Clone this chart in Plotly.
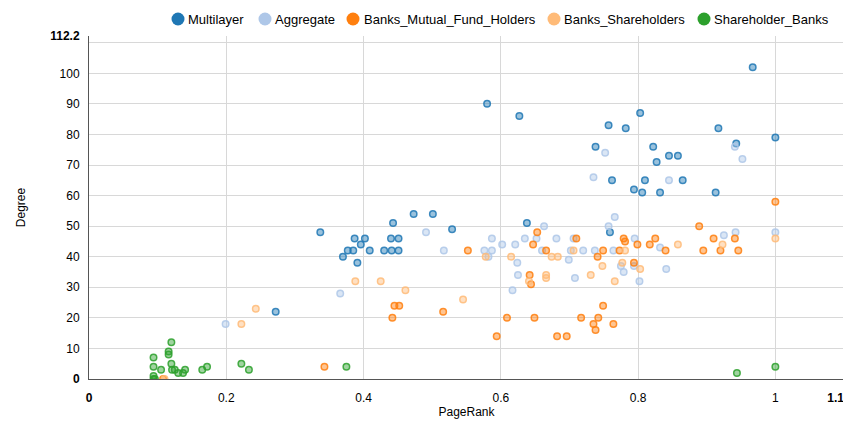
import plotly.graph_objects as go

series_names = ["Multilayer", "Aggregate", "Banks_Mutual_Fund_Holders",
                "Banks_Shareholders", "Shareholder_Banks"]
series_colors = ["#1f77b4", "#aec7e8", "#ff7f0e", "#ffbb78", "#2ca02c"]

multilayer_x = [0.967, 0.58, 0.627, 0.757, 0.782, 0.803, 0.738, 0.822, 0.827, 0.845, 0.858,
                0.917, 0.943, 0.762, 0.810, 0.865, 0.794, 0.806, 0.832, 0.913, 0.759, 1.0,
                0.337, 0.473, 0.501, 0.443, 0.529, 0.387, 0.402, 0.396, 0.377, 0.385, 0.409,
                0.370, 0.391, 0.440, 0.451, 0.430, 0.441, 0.451, 0.638, 0.272]
multilayer_y = [102, 90, 86, 83, 82, 87, 76, 76, 71, 73, 73,
                82, 77, 65, 65, 65, 62, 61, 61, 61, 48, 79,
                48, 54, 54, 51, 49, 46, 46, 44, 42, 42, 42,
                40, 38, 46, 46, 42, 42, 42, 51, 22]

aggregate_x = [0.199, 0.366, 0.491, 0.517, 0.576, 0.587, 0.587, 0.582, 0.602, 0.621, 0.635,
               0.652, 0.663, 0.660, 0.624, 0.625, 0.617, 0.681, 0.706, 0.795, 0.702, 0.720,
               0.737, 0.764, 0.832, 0.699, 0.775, 0.794, 0.779, 0.841, 0.708, 0.802, 0.757,
               0.766, 0.752, 0.735, 0.845, 0.941, 0.952, 0.925, 0.942, 1.0]
aggregate_y = [18, 28, 48, 42, 42, 42, 46, 40, 44, 44, 46,
               46, 50, 42, 38, 34, 29, 46, 46, 46, 42, 42,
               42, 42, 43, 39, 37, 37, 35, 36, 33, 32, 50,
               53, 74, 66, 65, 76, 72, 47, 48, 48]

mutual_x = [0.108, 0.343, 0.442, 0.445, 0.452, 0.516, 0.552, 0.594, 0.609, 0.649, 0.642,
            0.644, 0.647, 0.653, 0.666, 0.682, 0.696, 0.710, 0.717, 0.735, 0.738, 0.742,
            0.741, 0.749, 0.749, 0.764, 0.773, 0.779, 0.781, 0.794, 0.799, 0.817, 0.825,
            0.840, 0.889, 0.895, 0.910, 0.920, 0.941, 0.946, 1.0]
mutual_y = [0, 4, 20, 24, 24, 22, 42, 14, 20, 20, 34,
            31, 44, 48, 42, 14, 14, 46, 20, 18, 16, 20,
            40, 24, 42, 18, 42, 46, 45, 38, 44, 44, 46,
            42, 50, 42, 46, 42, 46, 42, 58]

shareholders_x = [0.110, 0.222, 0.243, 0.388, 0.425, 0.461, 0.545, 0.578, 0.615, 0.641, 0.666,
                  0.666, 0.674, 0.683, 0.706, 0.731, 0.748, 0.766, 0.777, 0.781, 0.803, 0.858,
                  0.923, 1.0]
shareholders_y = [0, 18, 23, 32, 32, 29, 26, 40, 40, 32, 34,
                  33, 40, 40, 42, 34, 37, 32, 38, 42, 36, 44,
                  44, 46]

sh_banks_x = [0.094, 0.094, 0.096, 0.094, 0.094, 0.105, 0.116, 0.116, 0.120, 0.120, 0.121,
              0.125, 0.130, 0.137, 0.140, 0.165, 0.172, 0.222, 0.233, 0.375, 0.944, 1.0]
sh_banks_y = [0, 1, 0, 4, 7, 3, 8, 9, 12, 5, 3,
              3, 2, 2, 3, 3, 4, 5, 3, 4, 2, 4]

NBSP = "\u00a0"
x_tick_vals = [0, 0.2, 0.4, 0.6, 0.8, 1, 1.1]
x_tick_text = ["<b>0</b>", "0.2", "0.4", "0.6", "0.8", "1", "<b>1.1</b>" + NBSP * 5]
x_grid_vals = [0.2, 0.4, 0.6, 0.8, 1.0]
y_tick_vals = [0, 10, 20, 30, 40, 50, 60, 70, 80, 90, 100, 112.2]
y_tick_text = ["<b>0</b>"] + [str(v) for v in range(10, 101, 10)] + ["<b>112.2</b>"]
y_grid_vals = [10, 20, 30, 40, 50, 60, 70, 80, 90, 100, 110]

xs = [multilayer_x, aggregate_x, mutual_x, shareholders_x, sh_banks_x]
ys = [multilayer_y, aggregate_y, mutual_y, shareholders_y, sh_banks_y]

BODY = 8  # default page margin of the html body
W, H = 851 - BODY, 422 - BODY
ML, MT = 89 - BODY, 36 - BODY
PW, PH = 755, 343
MR, MB = W - ML - PW, H - MT - PH

# legend layout (page pixel positions of symbol centres and text starts)
legend_symbol_px = [178, 265, 353, 554, 704]
legend_text_px = [186, 273, 362, 562, 712]
legend_y_px = 19


def rgba(hex_color, a):
    h = hex_color.lstrip("#")
    r, g, b = int(h[0:2], 16), int(h[2:4], 16), int(h[4:6], 16)
    return f"rgba({r},{g},{b},{a})"


fig = go.Figure()
for name, col, x, y in zip(series_names, series_colors, xs, ys):
    fig.add_trace(go.Scatter(
        x=x, y=y, mode="markers", name=name, showlegend=False,
        marker=dict(size=6.5, color=rgba(col, 0.45),
                    line=dict(color=rgba(col, 0.85), width=1.5)),
    ))

ly = (MT + PH - (legend_y_px - BODY)) / PH
shapes = []
annotations = []
for name, col, sx, tx in zip(series_names, series_colors, legend_symbol_px, legend_text_px):
    shapes.append(dict(type="circle", xref="paper", yref="paper",
                       xsizemode="pixel", ysizemode="pixel",
                       xanchor=(sx - BODY - ML) / PW, yanchor=ly,
                       x0=-6.5, x1=6.5, y0=-6.5, y1=6.5,
                       fillcolor=col, line=dict(width=0)))
    annotations.append(dict(text=name, xref="paper", yref="paper",
                            x=(tx - BODY - ML) / PW, y=ly, xanchor="left", yanchor="middle",
                            showarrow=False, font=dict(size=13, color="#000")))

font_family = "Liberation Sans, Arial, sans-serif"
fig.update_layout(
    width=W, height=H,
    margin=dict(l=ML, r=MR, t=MT, b=MB, autoexpand=False),
    paper_bgcolor="white", plot_bgcolor="white",
    font=dict(family=font_family, size=12, color="#333"),
    showlegend=False,
    shapes=shapes,
    annotations=annotations,
    xaxis=dict(range=[0, 1.1], tickvals=x_tick_vals, ticktext=x_tick_text, automargin=False,
               ticklabeloverflow="allow",
               showgrid=False, zeroline=False, showline=True, linecolor="#555", linewidth=1,
               ticks="outside", ticklen=8, tickcolor="rgba(0,0,0,0)",
               tickfont=dict(size=12, color="#000"),
               minor=dict(tickvals=x_grid_vals, showgrid=True, gridcolor="#d8d8d8", gridwidth=1, ticks=""),
               title=dict(text="PageRank", font=dict(size=12, color="#000"), standoff=0)),
    yaxis=dict(range=[0, 112.2], tickvals=y_tick_vals, ticktext=y_tick_text, automargin=False,
               ticklabeloverflow="allow",
               showgrid=False, zeroline=False, showline=True, linecolor="#555", linewidth=1,
               ticks="outside", ticklen=6, tickcolor="rgba(0,0,0,0)",
               tickfont=dict(size=12, color="#000"),
               minor=dict(tickvals=y_grid_vals, showgrid=True, gridcolor="#d8d8d8", gridwidth=1, ticks=""),
               title=dict(text="Degree", font=dict(size=12, color="#000"), standoff=22)),
)

fig.write_html("out.html")
